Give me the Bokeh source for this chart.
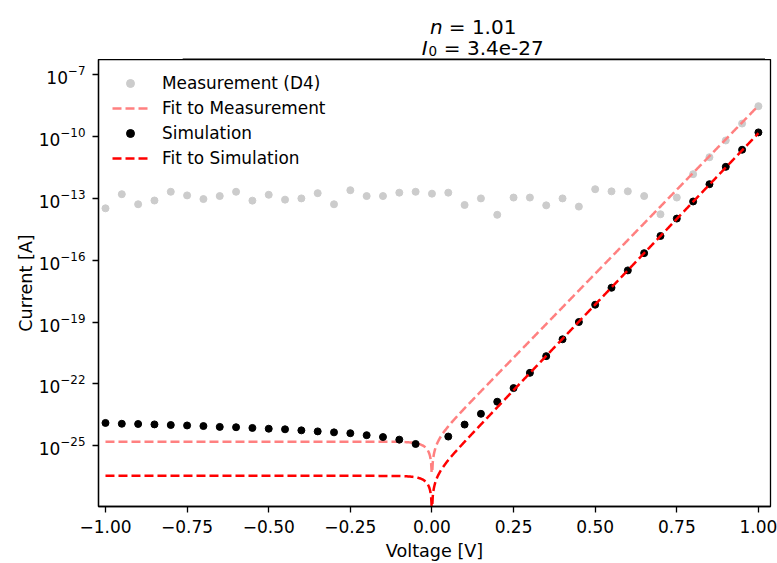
import numpy as np
from bokeh.plotting import figure
from bokeh.layouts import column
from bokeh.models import FixedTicker, Range1d, LogTickFormatter
from bokeh.core.properties import value
from bokeh.embed import file_html
from bokeh.resources import INLINE

# ---- data ----
voltage = [-1.00, -0.95, -0.90, -0.85, -0.80, -0.75, -0.70, -0.65, -0.60, -0.55,
           -0.50, -0.45, -0.40, -0.35, -0.30, -0.25, -0.20, -0.15, -0.10, -0.05,
           0.00, 0.05, 0.10, 0.15, 0.20, 0.25, 0.30, 0.35, 0.40, 0.45,
           0.50, 0.55, 0.60, 0.65, 0.70, 0.75, 0.80, 0.85, 0.90, 0.95, 1.00]

measurement_current = [3.3e-14, 1.6e-13, 5.2e-14, 7.9e-14, 2.1e-13, 1.4e-13, 9.3e-14, 1.3e-13, 2.1e-13, 7.8e-14,
                       1.5e-13, 8.7e-14, 1.0e-13, 1.8e-13, 5.2e-14, 2.5e-13, 1.3e-13, 1.3e-13, 1.9e-13, 2.1e-13,
                       1.7e-13, 1.9e-13, 4.8e-14, 1.0e-13, 1.6e-14, 1.1e-13, 1.1e-13, 4.6e-14, 1.0e-13, 4.0e-14,
                       2.8e-13, 2.2e-13, 2.2e-13, 1.3e-13, 1.7e-14, 1.1e-13, 1.5e-12, 1.0e-11, 6.5e-11, 4.3e-10, 3.0e-9]

simulation_current = [1.26e-24, 1.15e-24, 1.12e-24, 1.07e-24, 1.00e-24, 9.5e-25, 8.9e-25, 8.1e-25, 7.8e-25, 7.2e-25,
                      6.6e-25, 6.2e-25, 5.5e-25, 4.9e-25, 4.4e-25, 4.0e-25, 3.2e-25, 2.6e-25, 1.95e-25, 1.2e-25,
                      0.0, 2.75e-25, 1.05e-24, 3.5e-24, 1.35e-23, 6.2e-23, 3.4e-22, 2.2e-21, 1.45e-20, 1.0e-19,
                      6.9e-19, 4.6e-18, 3.2e-17, 2.2e-16, 1.5e-15, 1.05e-14, 7.1e-14, 4.9e-13, 3.4e-12, 2.3e-11, 1.6e-10]

# diode-equation fit parameters
N_SIM = 1.01
I0_SIM = 3.4e-27
N_MEAS = 1.03
I0_MEAS = 1.55e-25
V_THERMAL = 0.025852

x_ticks = [-1.0, -0.75, -0.5, -0.25, 0.0, 0.25, 0.5, 0.75, 1.0]
x_tick_labels = ["\u22121.00", "\u22120.75", "\u22120.50", "\u22120.25", "0.00", "0.25", "0.50", "0.75", "1.00"]
y_ticks = [1e-25, 1e-22, 1e-19, 1e-16, 1e-13, 1e-10, 1e-7]

FONT = "DejaVu Sans"

# ---- fit curves ----
v_fit = np.linspace(-1.0, 1.0, 1200)
fit_meas = np.abs(I0_MEAS * (np.exp(v_fit / (N_MEAS * V_THERMAL)) - 1.0))
fit_sim = np.abs(I0_SIM * (np.exp(v_fit / (N_SIM * V_THERMAL)) - 1.0))

meas_v = [v for v, c in zip(voltage, measurement_current) if c > 0]
meas_c = [c for c in measurement_current if c > 0]
sim_v = [v for v, c in zip(voltage, simulation_current) if c > 0]
sim_c = [c for c in simulation_current if c > 0]

TITLE_H = 59
FRAME_L, FRAME_R = 98, 770

# ---- title strip (pixel coordinates) ----
t = figure(width=777, height=TITLE_H, x_range=Range1d(0, 777), y_range=Range1d(TITLE_H, 0),
           output_backend="svg", toolbar_location=None, x_axis_location=None, y_axis_location=None,
           min_border=0)
t.outline_line_color = None
t.xgrid.visible = False
t.ygrid.visible = False

def ttext(x, y, s, style="normal", size="20px", align="left"):
    t.text(x=[x], y=[y], text=[s], text_font=value(FONT), text_font_size=value(size),
           text_font_style=value(style), text_align=value(align),
           text_baseline=value("alphabetic"), text_color="black")

ttext(398, 26.7, "n", style="italic", align="right")
ttext(405, 26.7, "= 1.01")
ttext(380.5, 47.7, "I", style="italic", align="right")
ttext(381.5, 50.5, "0", size="13.5px")
ttext(399.3, 47.7, "= 3.4e-27")
# top edge of the plot frame
t.segment(x0=[FRAME_L - 0.65], y0=[TITLE_H - 0.35], x1=[FRAME_R + 0.65], y1=[TITLE_H - 0.35],
          line_color="black", line_width=1.3)

# ---- main plot ----
p = figure(width=777, height=563 - TITLE_H, y_axis_type="log",
           x_range=Range1d(-1.0214, 1.037),
           y_range=Range1d(10 ** -27.956, 10 ** -6.257),
           output_backend="svg", toolbar_location=None,
           min_border_left=FRAME_L, min_border_right=777 - FRAME_R, min_border_top=0, min_border_bottom=54)

p.background_fill_color = "white"
p.border_fill_color = "white"
p.outline_line_color = "black"
p.outline_line_width = 1.3
p.xgrid.visible = False
p.ygrid.visible = False

p.scatter(meas_v, meas_c, size=7, color="#cccccc", legend_label="Measurement (D4)")
p.line(v_fit, fit_meas, line_color="#ff8080", line_width=2.5, line_dash="9 4",
       legend_label="Fit to Measurement")
p.scatter(sim_v, sim_c, size=7, color="black", legend_label="Simulation")
p.line(v_fit, fit_sim, line_color="#ff0000", line_width=2.5, line_dash="9 4",
       legend_label="Fit to Simulation")

for ax in (p.xaxis[0], p.yaxis[0]):
    ax.axis_line_width = 1.3
    ax.major_tick_line_width = 1.3
    ax.major_tick_out = 6
    ax.major_tick_in = 0
    ax.minor_tick_out = 0
    ax.minor_tick_in = 0
    ax.major_label_text_font = FONT
    ax.major_label_text_font_size = "17px"
    ax.major_label_text_color = "black"
    ax.axis_label_text_font = FONT
    ax.axis_label_text_font_size = "17.6px"
    ax.axis_label_text_font_style = "normal"
    ax.axis_label_text_color = "black"
    ax.major_label_standoff = 7
    ax.axis_label_standoff = 5

p.xaxis.ticker = FixedTicker(ticks=x_ticks)
p.xaxis.major_label_overrides = dict(zip(x_ticks, x_tick_labels))
p.xaxis.axis_label = "Voltage [V]"
p.yaxis.ticker = FixedTicker(ticks=y_ticks)
p.yaxis.formatter = LogTickFormatter()
p.yaxis.axis_label = "Current [A]"
p.yaxis.axis_label_standoff = 0

leg = p.legend[0]
leg.location = "top_left"
leg.border_line_alpha = 0
leg.background_fill_alpha = 0
leg.margin = 5
leg.padding = 9
leg.spacing = 5
leg.glyph_width = 36
leg.glyph_height = 20
leg.label_standoff = 14
leg.label_text_font = FONT
leg.label_text_font_size = "16.9px"
leg.label_text_color = "black"

layout = column(t, p, spacing=0)
open("out.html", "w").write(file_html(layout, INLINE))
